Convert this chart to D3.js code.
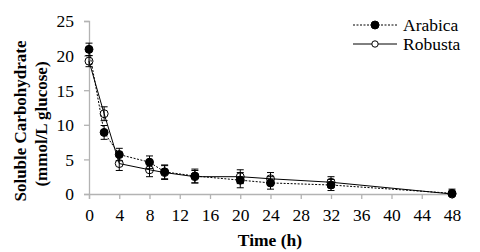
<!DOCTYPE html>
<html>
<head>
<meta charset="utf-8">
<script src="https://cdn.jsdelivr.net/npm/d3@7"></script>
<style>
  body { margin: 0; background: #fff; }
  svg text { font-family: "Liberation Serif", "Times New Roman", "DejaVu Serif", serif; fill: #000; }
</style>
</head>
<body>
<div id="chart"></div>
<script>
// values
const hours = [0, 2, 4, 8, 10, 14, 20, 24, 32, 48];
const arabica = [20.9, 8.9, 5.7, 4.6, 3.2, 2.6, 2.0, 1.6, 1.3, 0.1];
const arabicaErr = [0.9, 1.0, 0.9, 0.9, 1.0, 1.0, 1.1, 0.9, 0.8, 0.6];
const robusta = [19.2, 11.6, 4.4, 3.5, 3.1, 2.5, 2.5, 2.2, 1.7, 0.0];
const robustaErr = [0.8, 1.0, 1.0, 1.0, 1.0, 0.9, 1.0, 0.9, 0.8, 0.0];
const xTicks = d3.range(0, 49, 4);
const yTicks = [0, 5, 10, 15, 20, 25];

const width = 480, height = 252;
const margin = {left: 89, right: 28, top: 21, bottom: 58};
const serif = '"Liberation Serif", "Times New Roman", "DejaVu Serif", serif';

const svg = d3.select("#chart").append("svg")
  .attr("width", width)
  .attr("height", height);

const x = d3.scaleLinear().domain([0, 48]).range([margin.left, width - margin.right]);
const y = d3.scaleLinear().domain([0, 25]).range([height - margin.bottom, margin.top]);

const axisColor = "#b3b3b3";

// axes
const gx = svg.append("g")
  .attr("transform", `translate(0,${y(0)})`)
  .call(d3.axisBottom(x).tickValues(xTicks).tickSize(5).tickPadding(9));
const gy = svg.append("g")
  .attr("transform", `translate(${x(0)},0)`)
  .call(d3.axisLeft(y).tickValues(yTicks).tickSize(5).tickPadding(10));

[gx, gy].forEach(g => {
  g.attr("font-family", serif).attr("font-size", 17.5);
  g.select(".domain").attr("stroke", axisColor).attr("stroke-width", 1.3);
  g.selectAll(".tick line").attr("stroke", axisColor).attr("stroke-width", 1.3);
  g.selectAll(".tick text").attr("fill", "#000");
});
gy.selectAll(".tick text").attr("dy", "0.34em");
gx.selectAll(".tick text").attr("dy", "0.75em");

// axis titles
svg.append("text")
  .attr("x", 270)
  .attr("y", 246)
  .attr("text-anchor", "middle")
  .attr("font-family", serif)
  .style("font-size", "17.5px")
  .style("font-weight", "bold")
  .text("Time (h)");

const yMid = 121;
svg.append("text")
  .attr("transform", `translate(26,${yMid}) rotate(-90)`)
  .attr("text-anchor", "middle")
  .attr("font-family", serif)
  .style("font-size", "17px")
  .style("font-weight", "bold")
  .text("Soluble Carbohydrate");
svg.append("text")
  .attr("transform", `translate(47,${yMid + 3}) rotate(-90)`)
  .attr("text-anchor", "middle")
  .attr("font-family", serif)
  .style("font-size", "17px")
  .style("font-weight", "bold")
  .text("(mmol/L glucose)");

const series = [
  {name: "Arabica", values: arabica, err: arabicaErr, fill: "#000", dash: "2,1.5"},
  {name: "Robusta", values: robusta, err: robustaErr, fill: "#fff", dash: null}
];

const line = d3.line().x(d => x(d.h)).y(d => y(d.v));

// draw Robusta first so Arabica dots sit on top
series.slice().reverse().forEach(s => {
  const pts = hours.map((h, i) => ({h: h, v: s.values[i], e: s.err[i]}));
  const g = svg.append("g");

  g.append("path")
    .datum(pts)
    .attr("fill", "none")
    .attr("stroke", "#000")
    .attr("stroke-width", 1)
    .attr("stroke-dasharray", s.dash)
    .attr("d", line);

  const bars = g.selectAll(".err").data(pts.filter(d => d.e > 0)).enter().append("g");
  bars.append("line")
    .attr("x1", d => x(d.h)).attr("x2", d => x(d.h))
    .attr("y1", d => y(Math.max(0, d.v - d.e))).attr("y2", d => y(d.v + d.e))
    .attr("stroke", "#000").attr("stroke-width", 1);
  bars.append("line")
    .attr("x1", d => x(d.h) - 3.5).attr("x2", d => x(d.h) + 3.5)
    .attr("y1", d => y(d.v + d.e)).attr("y2", d => y(d.v + d.e))
    .attr("stroke", "#000").attr("stroke-width", 1);
  bars.filter(d => d.v - d.e > 0).append("line")
    .attr("x1", d => x(d.h) - 3.5).attr("x2", d => x(d.h) + 3.5)
    .attr("y1", d => y(d.v - d.e)).attr("y2", d => y(d.v - d.e))
    .attr("stroke", "#000").attr("stroke-width", 1);

  g.selectAll("circle").data(pts).enter().append("circle")
    .attr("cx", d => x(d.h))
    .attr("cy", d => y(d.v))
    .attr("r", 4)
    .attr("fill", s.fill)
    .attr("fill-opacity", s.fill === "#fff" ? 0 : 1)
    .attr("stroke", "#000")
    .attr("stroke-width", 1);
});

// legend
const legend = svg.append("g").attr("transform", "translate(353,25)");
series.forEach((s, i) => {
  const row = legend.append("g").attr("transform", `translate(0,${i * 19})`);
  row.append("line")
    .attr("x1", 0).attr("x2", 44)
    .attr("stroke", "#000").attr("stroke-width", 1)
    .attr("stroke-dasharray", s.dash);
  row.append("circle")
    .attr("cx", 22).attr("r", i === 0 ? 4 : 3.2)
    .attr("fill", s.fill)
    .attr("stroke", "#000").attr("stroke-width", 1);
  row.append("text")
    .attr("x", 50).attr("dy", "0.35em")
    .attr("font-family", serif)
    .style("font-size", "17.5px")
    .text(s.name);
});
</script>
</body>
</html>
